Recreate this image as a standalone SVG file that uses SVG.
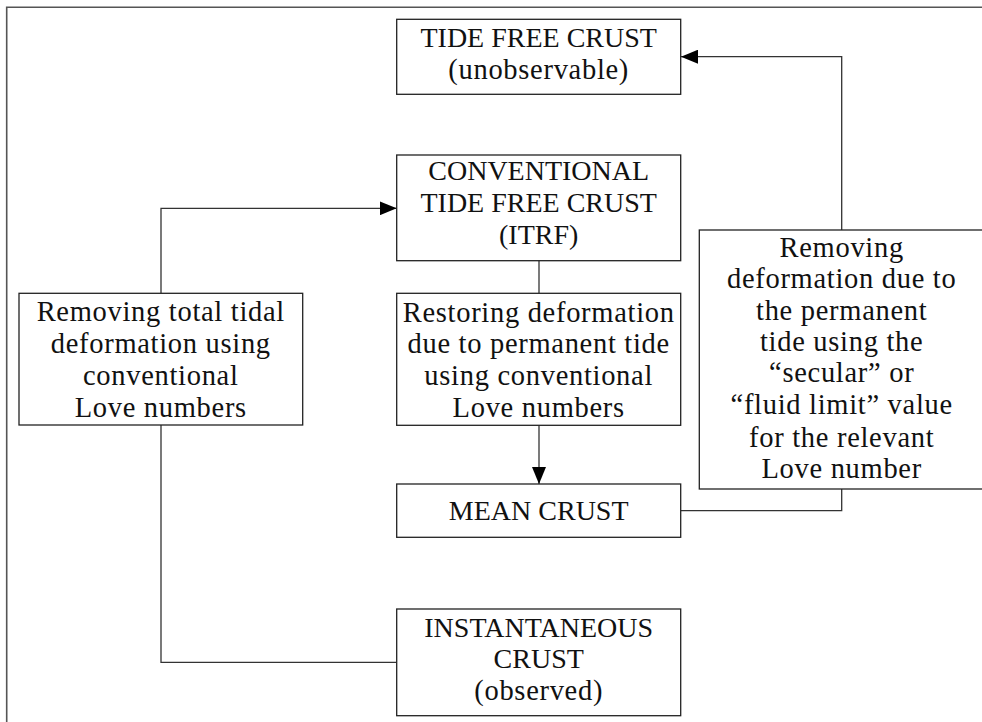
<svg xmlns="http://www.w3.org/2000/svg" width="982" height="722" viewBox="0 0 982 722">
<defs>
<style>
.box{fill:#fff;stroke:#222;stroke-width:1.3}
.frame{fill:none;stroke:#555;stroke-width:1.6}
.con{fill:none;stroke:#333;stroke-width:1.3}
text{font-family:"Liberation Serif","Times New Roman",serif;font-size:28px;fill:#111;text-anchor:middle}
.lc{font-size:28.5px;letter-spacing:0.7px}
</style>
<marker id="arr" markerUnits="userSpaceOnUse" markerWidth="18" markerHeight="14" refX="17" refY="7" orient="auto">
<path d="M0,0 L17,7 L0,14 Z" fill="#000"/>
</marker>
</defs>
<rect width="982" height="722" fill="#fff"/>
<path class="frame" d="M990,7.3 H6.7 V730"/>
<g id="connectors">
<path class="con" d="M841.7,230 V56.7 H681" marker-end="url(#arr)"/>
<path class="con" d="M680.7,510.7 H841.7 V489"/>
<path class="con" d="M161,293.3 V208.3 H396.7" marker-end="url(#arr)"/>
<path class="con" d="M161,425 V662.3 H396.7"/>
<path class="con" d="M539,260.7 V293.3"/>
<path class="con" d="M539,425.3 V484" marker-end="url(#arr)"/>
</g>
<g id="tide-free">
<rect class="box" x="396.7" y="19.3" width="284" height="75"/>
<text x="538.7" y="47">TIDE FREE CRUST</text>
<text class="lc" x="538.7" y="79">(unobservable)</text>
</g>
<g id="conventional">
<rect class="box" x="396.7" y="155" width="284" height="105.7"/>
<text x="538.7" y="180">CONVENTIONAL</text>
<text x="538.7" y="212">TIDE FREE CRUST</text>
<text x="538.7" y="244">(ITRF)</text>
</g>
<g id="removing-total">
<rect class="box" x="19" y="293.3" width="283.7" height="131.7"/>
<text class="lc" x="160.8" y="321">Removing total tidal</text>
<text class="lc" x="160.8" y="353">deformation using</text>
<text class="lc" x="160.8" y="385">conventional</text>
<text class="lc" x="160.8" y="416.7">Love numbers</text>
</g>
<g id="restoring">
<rect class="box" x="396.7" y="293.3" width="284" height="132"/>
<text class="lc" x="538.7" y="321.7">Restoring deformation</text>
<text class="lc" x="538.7" y="353.3">due to permanent tide</text>
<text class="lc" x="538.7" y="385">using conventional</text>
<text class="lc" x="538.7" y="416.7">Love numbers</text>
</g>
<g id="removing-permanent">
<rect class="box" x="699.3" y="230" width="290" height="259"/>
<text class="lc" x="841.7" y="256.7">Removing</text>
<text class="lc" x="841.7" y="288.3">deformation due to</text>
<text class="lc" x="841.7" y="320">the permanent</text>
<text class="lc" x="841.7" y="351">tide using the</text>
<text class="lc" x="841.7" y="382.3">“secular” or</text>
<text class="lc" x="841.7" y="414">“fluid limit” value</text>
<text class="lc" x="841.7" y="446.7">for the relevant</text>
<text class="lc" x="841.7" y="478.3">Love number</text>
</g>
<g id="mean-crust">
<rect class="box" x="396.7" y="484" width="284" height="53.3"/>
<text x="538.7" y="520">MEAN CRUST</text>
</g>
<g id="instantaneous">
<rect class="box" x="396.7" y="609" width="284" height="106.7"/>
<text x="538.7" y="636.7">INSTANTANEOUS</text>
<text x="538.7" y="668.3">CRUST</text>
<text class="lc" x="538.7" y="700">(observed)</text>
</g>
</svg>
